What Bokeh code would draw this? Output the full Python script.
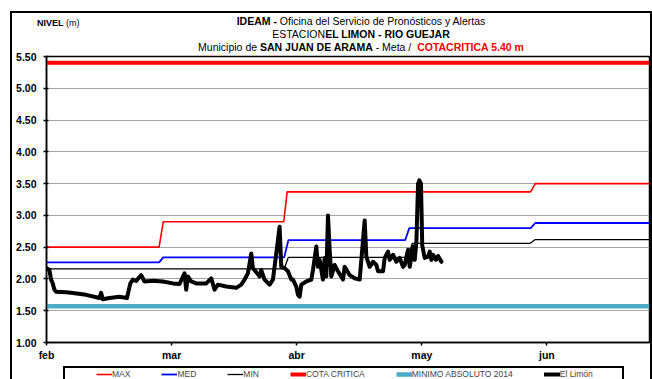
from bokeh.plotting import figure
from bokeh.layouts import column
from bokeh.models import (Range1d, FixedTicker, Legend, LegendItem, Div,
                          NumeralTickFormatter, InlineStyleSheet)
from bokeh.embed import file_html
from bokeh.resources import INLINE

FONT = "Liberation Sans"

# ---- axis definitions (x = days counted from 1 February) ----
month_ticks = [0, 30, 60, 90, 120]
month_labels = ["feb", "mar", "abr", "may", "jun"]
level_ticks = [1.0, 1.5, 2.0, 2.5, 3.0, 3.5, 4.0, 4.5, 5.0, 5.5]
x_end = 144.6

# ---- reference levels ----
cota_critica = 5.40
minimo_absoluto_2014 = 1.57

max_days = [0, 27.0, 28.0, 56.9, 57.7, 116.1, 117.2, x_end]
max_vals = [2.50, 2.50, 2.90, 2.90, 3.37, 3.37, 3.50, 3.50]

med_days = [0, 27.0, 28.0, 57.0, 58.0, 86.0, 87.0, 116.1, 117.2, x_end]
med_vals = [2.26, 2.26, 2.34, 2.34, 2.61, 2.61, 2.80, 2.80, 2.88, 2.88]

min_days = [0, 57.0, 58.0, 86.7, 87.7, 116.0, 117.2, x_end]
min_vals = [2.16, 2.16, 2.34, 2.34, 2.56, 2.56, 2.62, 2.62]

# ---- observed level, El Limón station ----
obs_days = [0.0, 0.7, 1.1, 1.5, 1.9, 2.3, 4.7, 6.3, 9.5, 12.7, 13.1, 13.5,
            15.1, 17.5, 19.3, 20.1, 20.7, 21.5, 22.7, 23.5, 25.5, 27.9,
            30.3, 31.9, 33.1, 33.5, 33.9, 34.7, 35.9, 38.3, 39.5, 40.3,
            41.1, 43.1, 45.5, 46.7, 47.5, 48.3, 49.1, 49.5, 50.5, 51.1,
            51.5, 52.3, 53.5, 54.3, 55.1, 55.9, 56.3, 57.1, 57.9, 58.7,
            59.1, 59.9, 60.3, 60.7, 61.1, 62.3, 63.5, 63.9, 64.7, 65.1,
            65.5, 66.3, 66.7, 67.1, 67.5, 67.9, 68.3, 69.1, 69.9, 71.1,
            71.5, 72.7, 73.9, 75.1, 76.3, 76.7, 77.5, 78.3, 79.1, 79.5,
            80.7, 81.1, 81.9, 82.3, 83.1, 83.9, 84.7, 85.5, 85.9, 86.7,
            87.1, 87.9, 88.3, 88.7, 89.1, 89.4, 89.8, 90.1, 90.3, 90.7,
            91.5, 91.9, 92.3, 92.7, 93.4, 93.9, 94.7]
obs_vals = [2.17, 2.14, 1.99, 1.93, 1.83, 1.80, 1.79, 1.78, 1.75, 1.70, 1.78, 1.68,
            1.70, 1.72, 1.70, 1.93, 1.99, 1.97, 2.06, 1.96, 1.97, 1.96,
            1.93, 1.92, 2.09, 1.83, 2.04, 1.96, 1.93, 1.93, 2.01, 1.83,
            1.91, 1.88, 1.86, 1.91, 1.99, 2.09, 2.40, 2.17, 2.09, 2.04,
            2.14, 1.99, 1.91, 1.99, 2.40, 2.82, 2.19, 2.17, 2.12, 1.99,
            1.99, 1.88, 1.75, 1.72, 1.91, 1.96, 1.99, 2.14, 2.51, 2.19,
            2.30, 1.99, 2.33, 2.04, 3.00, 2.46, 2.04, 2.22, 2.12, 1.99,
            2.19, 2.06, 2.01, 1.99, 2.92, 2.35, 2.19, 2.27, 2.22, 2.12,
            2.12, 2.33, 2.43, 2.30, 2.38, 2.27, 2.33, 2.19, 2.22, 2.46,
            2.19, 2.51, 2.30, 2.59, 3.50, 3.55, 3.50, 2.53, 2.46, 2.33,
            2.35, 2.43, 2.30, 2.38, 2.30, 2.36, 2.27]

# each series: (label, x values, y values, line style)
SERIES = [
    ("MAX", max_days, max_vals, dict(line_color="#ff0000", line_width=1.6)),
    ("MED", med_days, med_vals, dict(line_color="#0000ff", line_width=1.8)),
    ("MIN", min_days, min_vals, dict(line_color="black", line_width=1.3)),
    ("COTA CRITICA", [0, x_end], [cota_critica, cota_critica],
     dict(line_color="#ff0000", line_width=4)),
    ("MINIMO ABSOLUTO 2014", [0, x_end], [minimo_absoluto_2014, minimo_absoluto_2014],
     dict(line_color="#4bacc6", line_width=4.5)),
    ("El Limón", obs_days, obs_vals,
     dict(line_color="black", line_width=4, line_join="round", line_cap="round")),
]
DRAW_ORDER = ["COTA CRITICA", "MINIMO ABSOLUTO 2014", "MAX", "MED", "MIN", "El Limón"]

HEADER_H = 38
LEGEND_H = 16
FRAME_TOP = 56      # page y of the 5.50 line
FRAME_BOTTOM = 343  # page y of the 1.00 line

# ---- header: station title block ----
header_html = f"""
<div style="position:absolute; left:37px; top:17px; font-family:'{FONT}'; font-size:9px;
            line-height:12px; white-space:nowrap; color:black; z-index:5;">
  <b>NIVEL</b> (m)
</div>
<div style="position:absolute; left:70px; top:15px; width:582px; text-align:center;
            font-family:'{FONT}'; font-size:10.5px; line-height:13px; white-space:nowrap;
            color:black; z-index:5;">
  <div><b>IDEAM -</b> Oficina del Servicio de Pronósticos y Alertas</div>
  <div>ESTACION<b>EL LIMON - RIO GUEJAR</b></div>
  <div>Municipio de <b>SAN JUAN DE ARAMA</b> - Meta /&nbsp;
       <b style="color:#ff0000;">COTACRITICA 5.40 m</b></div>
</div>
"""
header = Div(text=header_html, width=652, height=HEADER_H, margin=0,
             styles={"overflow": "visible", "position": "relative", "z-index": "5"})

# ---- main chart ----
fig_h = 379 - HEADER_H - LEGEND_H
p = figure(width=652, height=fig_h, output_backend="svg", toolbar_location=None,
           x_range=Range1d(0, x_end), y_range=Range1d(1.0, 5.5),
           min_border_left=46, min_border_right=3,
           min_border_top=FRAME_TOP - HEADER_H,
           min_border_bottom=fig_h - (FRAME_BOTTOM - HEADER_H))
p.title.visible = False
p.background_fill_color = "white"
p.border_fill_color = None
p.outline_line_color = "black"
p.outline_line_width = 1.5

for ax in (p.xaxis[0], p.yaxis[0]):
    ax.axis_line_color = "black"
    ax.axis_line_width = 1.5
    ax.major_tick_line_color = "black"
    ax.major_tick_line_width = 1.5
    ax.minor_tick_line_color = None
    ax.major_label_text_font = FONT
    ax.major_label_text_font_style = "bold"
    ax.major_label_text_font_size = "10.5px"
    ax.major_label_text_color = "black"

p.xaxis.ticker = FixedTicker(ticks=month_ticks)
p.xaxis.major_label_overrides = {t: lab for t, lab in zip(month_ticks, month_labels)}
p.xaxis.major_tick_out = 3
p.xaxis.major_tick_in = 0
p.xaxis.major_label_standoff = 3

p.yaxis.ticker = FixedTicker(ticks=level_ticks)
p.yaxis.formatter = NumeralTickFormatter(format="0.00")
p.yaxis.major_tick_out = 3
p.yaxis.major_tick_in = 2
p.yaxis.major_label_standoff = 7

p.xgrid.grid_line_color = None
p.ygrid.ticker = FixedTicker(ticks=level_ticks)
p.ygrid.grid_line_color = "#a6a6a6"
p.ygrid.grid_line_width = 1

by_name = {s[0]: s for s in SERIES}
for name in DRAW_ORDER:
    _, xs, ys, style = by_name[name]
    p.line(xs, ys, **style)

# ---- legend strip under the chart ----
# The strip's value window lies below every level, so only the legend shows.
lg = figure(width=652, height=LEGEND_H, output_backend="svg", toolbar_location=None,
            x_axis_type=None, y_axis_type=None,
            x_range=Range1d(0, x_end), y_range=Range1d(-1.0, 0.0),
            min_border=0, min_border_left=0, min_border_right=0,
            min_border_top=0, min_border_bottom=0)
lg.title.visible = False
lg.outline_line_color = None
lg.background_fill_color = None
lg.border_fill_color = None
lg.grid.grid_line_color = None
items = []
for name, xs, ys, style in SERIES:
    r = lg.line(xs, ys, **style)
    items.append(LegendItem(label=name, renderers=[r]))
legend = Legend(items=items, orientation="horizontal", location=(50, 0))
legend.padding = 0
legend.margin = 0
legend.spacing = 31
legend.label_standoff = 0
legend.glyph_width = 16
legend.glyph_height = 8
legend.label_width = 0
legend.label_height = 10
legend.label_text_font = FONT
legend.label_text_font_size = "8.5px"
legend.border_line_alpha = 0
legend.background_fill_alpha = 0
lg.add_layout(legend)

# chart border and legend box
frames = InlineStyleSheet(css="""
:host { position: relative; }
:host::after {
  content: ""; position: absolute; box-sizing: border-box;
  left: 10px; top: 10.5px; width: 642px; bottom: 0;
  border: 2.5px solid black; border-bottom: none;
  pointer-events: none; z-index: 10;
}
:host::before {
  content: ""; position: absolute; box-sizing: border-box;
  left: 63.3px; top: 366px; width: 561px; bottom: 0;
  border: 2px solid black; border-bottom: none;
  pointer-events: none; z-index: 10;
}
""")

page = column(header, p, lg, spacing=0, stylesheets=[frames])

open("out.html", "w").write(file_html(page, INLINE))
